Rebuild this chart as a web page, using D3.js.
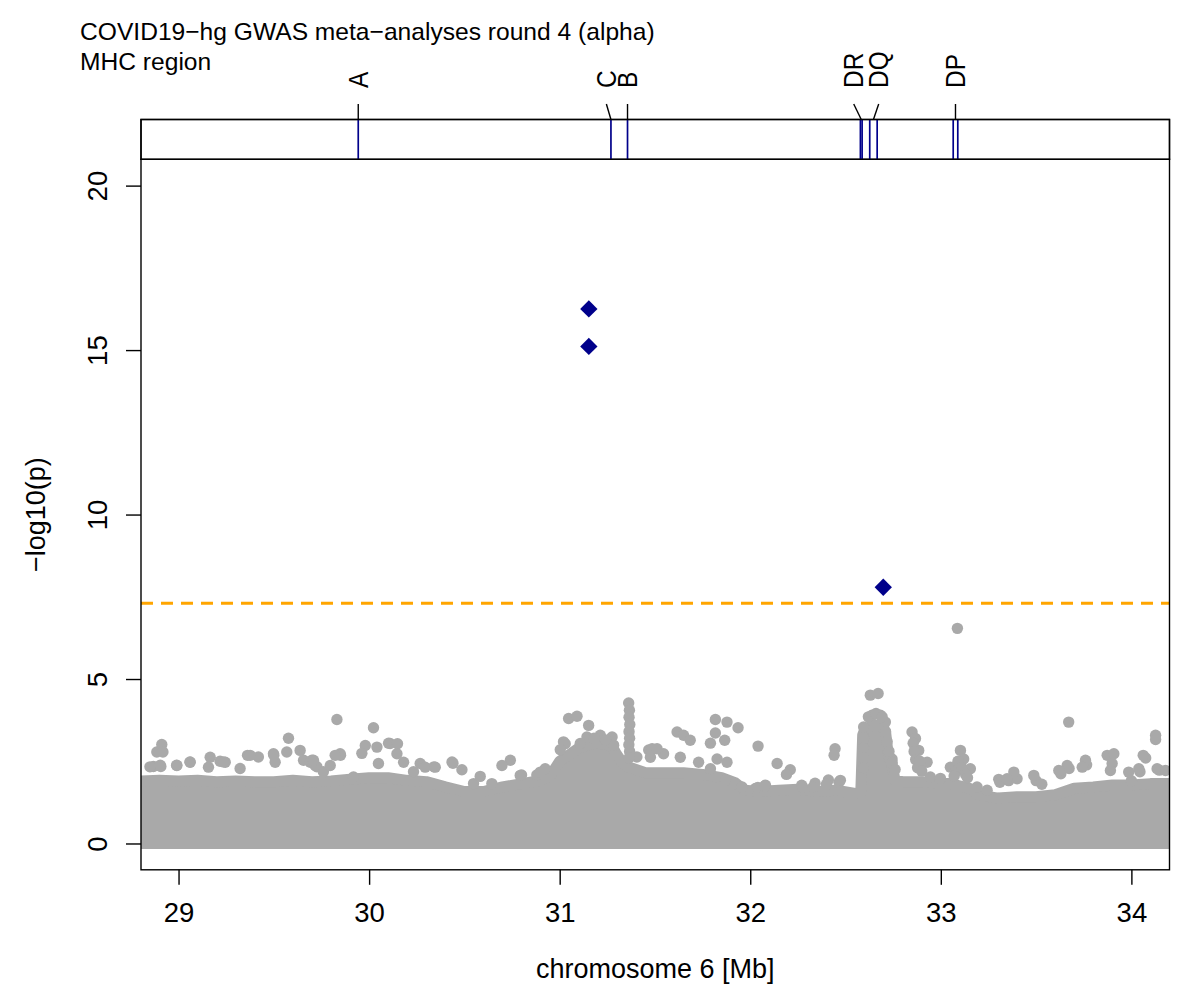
<!DOCTYPE html>
<html><head><meta charset="utf-8">
<script src="https://cdn.jsdelivr.net/npm/d3@7"></script>
<style>
body{margin:0;background:#fff}
text{font-family:"Liberation Sans",Arial,Helvetica,sans-serif;fill:#000}
</style>
</head><body>
<svg id="chart" width="1200" height="998"></svg>
<script>
// ---------------- data ----------------
const titleLines = ["COVID19\u2212hg GWAS meta\u2212analyses round 4 (alpha)", "MHC region"];
const xLabel = "chromosome 6 [Mb]";
const yLabel = "\u2212log10(p)";
const xTicks = [29, 30, 31, 32, 33, 34];
const yTicks = [0, 5, 10, 15, 20];
const xDomain = [28.803, 34.2];
const yDomain = [-0.8, 20.8];
const threshold = 7.3;   // -log10(5e-8)

// upper edge of the dense cloud of SNPs (Mb, -log10 p)
const bandPos = [28.80,28.90,29.00,29.10,29.20,29.30,29.40,29.50,29.60,29.70,29.80,29.90,30.00,30.10,30.20,30.30,30.40,30.50,30.60,30.70,30.80,30.90,30.95,31.00,31.05,31.10,31.15,31.20,31.25,31.28,31.30,31.33,31.35,31.40,31.45,31.55,31.65,31.75,31.85,31.92,31.97,32.05,32.15,32.25,32.35,32.45,32.55,32.58,32.59,32.60,32.64,32.68,32.71,32.72,32.73,32.745,32.76,32.80,32.90,33.00,33.05,33.15,33.20,33.30,33.40,33.50,33.60,33.70,33.80,33.90,34.00,34.10,34.20];
const bandTop = [1.90,1.92,1.90,1.92,1.88,1.90,1.88,1.88,1.92,1.88,1.90,1.95,2.00,2.00,1.92,1.88,1.72,1.58,1.58,1.72,1.82,1.92,2.05,2.50,2.70,2.90,3.00,3.05,3.00,2.90,2.70,2.45,2.35,2.25,2.15,2.15,2.15,2.10,2.00,1.85,1.62,1.58,1.62,1.65,1.58,1.62,1.52,1.55,3.30,3.45,3.60,3.60,3.40,2.90,2.60,2.35,1.92,1.88,1.88,1.82,1.82,1.68,1.48,1.38,1.42,1.42,1.48,1.68,1.72,1.78,1.78,1.82,1.82];

// individual SNPs standing out of the cloud
const snpPos = [28.912,28.886,28.918,28.868,28.907,28.991,29.061,29.166,29.218,29.245,29.157,29.362,29.419,29.498,29.507,29.577,29.568,29.638,29.656,29.691,29.323,
  28.850,28.904,28.990,29.060,29.236,29.376,29.500,29.700,29.726,29.850,30.110,30.340,30.435,30.644,30.800,30.880,31.020,31.405,31.467,
  29.760,29.918,30.233,30.548,
  29.831,30.023,30.041,29.980,29.962,29.848,29.822,29.796,29.717,29.708,30.102,30.149,30.146,30.181,30.049,30.268,30.294,30.347,30.440,30.487,30.583,
  30.741,30.697,30.924,30.898,30.793,31.047,31.091,31.152,31.213,31.275,31.143,31.029,31.003,31.108,31.485,31.476,31.283,31.180,31.240,
  31.362,31.366,31.364,31.368,31.364,31.367,31.363,31.367,31.364,
  31.817,31.878,31.936,31.817,31.866,31.791,31.616,31.650,31.685,32.041,31.633,31.826,31.878,31.729,31.545,31.511,31.791,32.141,32.210,32.190,32.445,32.440,
  31.870,31.957,32.027,32.080,32.270,32.340,32.410,
  32.040,32.076,32.276,32.330,32.400,32.466,
  32.630,32.671,32.639,32.683,32.709,32.595,32.744,32.849,32.867,32.884,32.928,33.103,33.120,33.050,33.155,33.304,32.473,
  32.620,32.660,32.692,32.595,32.595,32.597,32.594,32.710,32.718,32.728,32.745,32.760,
  32.855,32.860,32.868,32.878,32.890,32.900,33.090,33.080,33.110,33.130,33.070,33.140,
  32.945,32.998,33.190,33.243,
  33.310,33.356,33.400,33.500,33.530,33.630,33.673,33.765,34.000,34.045,34.075,34.147,
  33.671,34.127,34.127,34.062,34.039,33.873,33.908,33.899,33.890,33.759,33.742,33.663,33.619,33.488,33.383,33.348,33.986,34.135,34.179,
  33.087];
const snpLogP = [3.01,2.78,2.78,2.34,2.34,2.37,2.47,2.62,2.50,2.47,2.32,2.68,2.63,2.73,2.47,3.20,2.78,2.83,2.53,2.47,2.28,
  2.33,2.38,2.38,2.48,2.48,2.68,2.68,2.53,2.33,2.68,3.04,2.33,2.48,1.82,2.08,2.08,3.09,2.63,2.84,
  2.18,2.02,2.18,1.82,
  3.77,3.52,2.93,2.98,2.74,2.73,2.68,2.37,2.37,2.53,3.05,3.03,2.73,2.47,2.43,2.43,2.32,2.32,2.44,2.24,2.04,
  2.53,2.37,2.27,2.17,2.07,3.80,3.87,3.59,3.29,3.24,3.24,3.03,2.85,3.04,2.88,2.62,2.99,3.20,3.15,
  4.27,4.05,3.84,3.62,3.40,3.20,3.00,2.80,2.60,
  3.77,3.69,3.52,3.36,3.14,3.05,3.39,3.29,3.14,2.96,2.62,2.57,2.47,2.47,2.73,2.88,2.27,2.43,2.24,2.10,2.88,2.68,
  1.92,1.72,1.67,1.77,1.77,1.83,1.93,
  1.70,1.75,1.70,1.72,1.80,1.86,
  4.51,4.56,3.90,3.90,3.69,3.54,2.57,3.39,3.19,2.83,2.47,2.83,2.57,2.32,2.27,1.95,1.92,
  3.85,3.95,3.85,3.20,2.90,2.60,2.30,3.40,3.10,2.80,2.45,2.25,
  3.05,2.80,2.55,2.30,2.50,2.20,2.50,2.20,2.30,2.10,2.05,2.00,
  2.02,1.98,1.72,1.62,
  1.86,1.91,1.97,1.91,1.80,2.12,2.28,2.39,1.91,2.18,2.60,2.23,
  3.69,3.29,3.16,2.68,2.27,2.68,2.73,2.43,2.22,2.53,2.32,2.37,2.22,2.07,2.17,1.97,2.17,2.27,2.22,
  6.54];

// lead (highlighted) variants
const leadPos = [31.153, 31.153, 32.698];
const leadLogP = [16.25, 15.11, 7.79];

// HLA genes
const geneNames = ["A", "C", "B", "DR", "DQ", "DP"];
const geneLines = [[29.943], [31.269], [31.356], [32.578, 32.587], [32.627, 32.666], [33.065, 33.089]];
const geneLabelPos = [29.943, 31.245, 31.356, 32.543, 32.674, 33.077];

// ---------------- drawing ----------------
const GRAY = "#a9a9a9", NAVY = "#00008b", ORANGE = "#ffa500";
const P = {left: 141, right: 1169.5, top: 159.3, bottom: 869.8};
const G = {top: 119.5, bottom: 159.3};
const svg = d3.select("#chart");
const x = d3.scaleLinear().domain(xDomain).range([P.left, P.right]);
const y = d3.scaleLinear().domain(yDomain).range([P.bottom, P.top]);

svg.append("defs").append("clipPath").attr("id", "plotclip")
  .append("rect").attr("x", P.left).attr("y", P.top)
  .attr("width", P.right - P.left).attr("height", P.bottom - P.top);

const plot = svg.append("g").attr("clip-path", "url(#plotclip)");

// dense cloud
const band = bandPos.map((p, i) => [p, bandTop[i]]);
plot.append("path").datum(band)
  .attr("d", d3.area().x(d => x(d[0])).y0(y(0)).y1(d => y(d[1])))
  .attr("fill", GRAY).attr("stroke", GRAY).attr("stroke-width", 11)
  .attr("stroke-linejoin", "round");

// individual SNPs
plot.selectAll("circle.snp").data(snpPos.map((p, i) => [p, snpLogP[i]]))
  .join("circle").attr("class", "snp")
  .attr("cx", d => x(d[0])).attr("cy", d => y(d[1])).attr("r", 5.7)
  .attr("fill", GRAY);

// threshold line
plot.append("line")
  .attr("x1", P.left).attr("x2", P.right)
  .attr("y1", y(threshold)).attr("y2", y(threshold))
  .attr("stroke", ORANGE).attr("stroke-width", 3).attr("stroke-dasharray", "12,8");

// lead variants (diamonds)
const diamond = d3.symbol().type(d3.symbolSquare).size(150);
plot.selectAll("path.lead").data(leadPos.map((p, i) => [p, leadLogP[i]]))
  .join("path").attr("class", "lead")
  .attr("d", diamond)
  .attr("transform", d => `translate(${x(d[0])},${y(d[1])}) rotate(45)`)
  .attr("fill", NAVY);

// plot frame
svg.append("rect").attr("x", P.left).attr("y", P.top)
  .attr("width", P.right - P.left).attr("height", P.bottom - P.top)
  .attr("fill", "none").attr("stroke", "#000").attr("stroke-width", 1.4);

// x axis
const xAxis = svg.append("g").attr("transform", `translate(0,${P.bottom})`)
  .call(d3.axisBottom(x).tickValues(xTicks).tickSize(15).tickPadding(18).tickFormat(d3.format("d")));
xAxis.select(".domain").remove();
xAxis.selectAll(".tick line").attr("stroke", "#000").attr("stroke-width", 1.4);
xAxis.selectAll(".tick text").attr("font-size", 27.5).attr("font-family", null);

// y axis
const yAxis = svg.append("g").attr("transform", `translate(${P.left},0)`)
  .call(d3.axisLeft(y).tickValues(yTicks).tickSize(15).tickFormat(d3.format("d")));
yAxis.select(".domain").remove();
yAxis.selectAll(".tick line").attr("stroke", "#000").attr("stroke-width", 1.4);
yAxis.selectAll(".tick text")
  .attr("font-size", 27.5).attr("font-family", null)
  .attr("x", null).attr("dy", null)
  .attr("text-anchor", "middle")
  .attr("transform", "translate(-34,0) rotate(-90)");

// axis titles
svg.append("text").attr("x", (P.left + P.right) / 2).attr("y", 978)
  .attr("text-anchor", "middle").attr("font-size", 27).text(xLabel);
svg.append("text").attr("transform", `translate(44.5,${(P.top + P.bottom) / 2}) rotate(-90)`)
  .attr("text-anchor", "middle").attr("font-size", 27).text(yLabel);

// title
svg.selectAll("text.title").data(titleLines).join("text").attr("class", "title")
  .attr("x", 80).attr("y", (d, i) => 40 + i * 30)
  .attr("font-size", 24.6).text(d => d);

// gene panel
svg.append("rect").attr("x", P.left).attr("y", G.top)
  .attr("width", P.right - P.left).attr("height", G.bottom - G.top)
  .attr("fill", "#fff").attr("stroke", "#000").attr("stroke-width", 1.4);
const genes = geneNames.map((n, i) => ({name: n, lines: geneLines[i], label: geneLabelPos[i]}));
const gg = svg.append("g");
genes.forEach(g => {
  g.lines.forEach(p => {
    gg.append("line").attr("x1", x(p)).attr("x2", x(p))
      .attr("y1", G.top).attr("y2", G.bottom)
      .attr("stroke", NAVY).attr("stroke-width", 1.7);
  });
  const mid = d3.mean(g.lines);
  gg.append("line").attr("x1", x(g.label)).attr("y1", 104)
    .attr("x2", x(mid)).attr("y2", G.top)
    .attr("stroke", "#000").attr("stroke-width", 1.4);
  gg.append("text")
    .attr("transform", `translate(${x(g.label) + 9.5},88) rotate(-90) scale(1,1.12)`)
    .attr("text-anchor", "start").attr("font-size", 24.5).text(g.name);
});
// redraw outline of gene box on top of the blue lines
svg.append("rect").attr("x", P.left).attr("y", G.top)
  .attr("width", P.right - P.left).attr("height", G.bottom - G.top)
  .attr("fill", "none").attr("stroke", "#000").attr("stroke-width", 1.4);
</script>
</body></html>
